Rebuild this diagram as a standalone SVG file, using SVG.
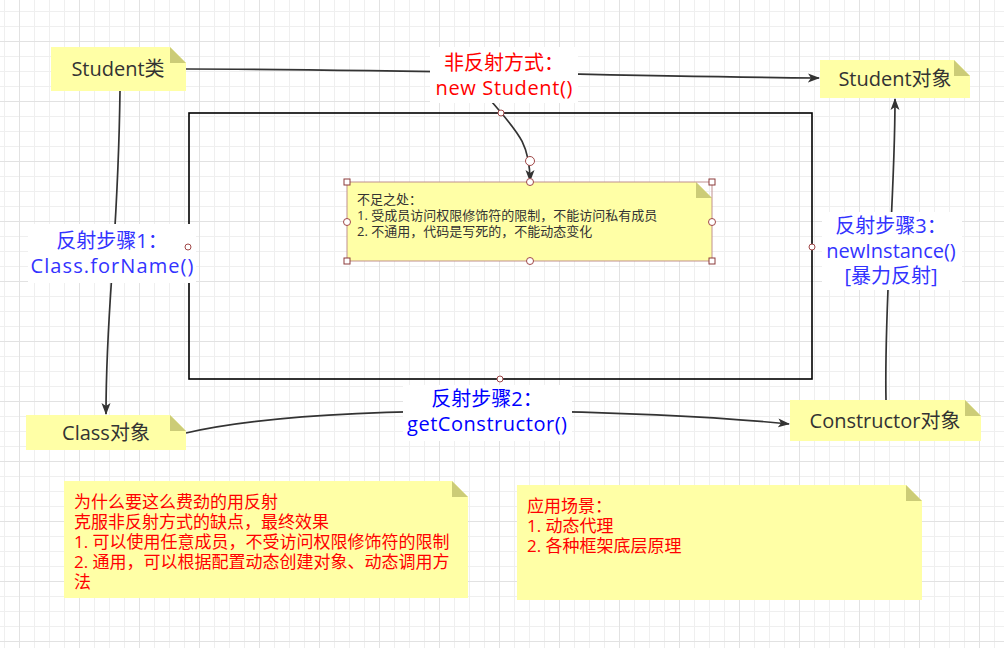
<svg xmlns="http://www.w3.org/2000/svg" width="1004" height="648" viewBox="0 0 1004 648">
<style>
text{font-family:"Open Sans","Noto Sans CJK SC",sans-serif}
.nt{font-size:20px;fill:#333;text-anchor:middle}
.lb{font-size:20px;text-anchor:middle}
.red{fill:#ff0000}
.blue{fill:#3333ff}
.blue2{fill:#0000ff}
.note{fill:#ffffa6}
.fold{fill:#cccc77}
.edge{fill:none;stroke:#333;stroke-width:1.7}
.bg{fill:#fff}
.hs{fill:#fff;stroke:#8b3a3a;stroke-width:1}
.hc{fill:#fff;stroke:#a04848;stroke-width:1}
.mt{font-size:17px;fill:#ff0000}
.st{font-size:13px;fill:#333}
</style>
<defs>
<pattern id="gmin" x="4" y="11" width="15" height="15" patternUnits="userSpaceOnUse">
<path d="M0.5,0V15M0,0.5H15" stroke="#efefef" stroke-width="1" fill="none"/>
</pattern>
<pattern id="gmaj" x="19" y="41" width="60" height="60" patternUnits="userSpaceOnUse">
<path d="M0.5,0V60M0,0.5H60" stroke="#e2e2e2" stroke-width="1" fill="none"/>
</pattern>
<marker id="arr" viewBox="0 0 12 10" refX="11" refY="5" markerWidth="12" markerHeight="10" markerUnits="userSpaceOnUse" orient="auto">
<path d="M0,0.5L12,5L0,9.5L3,5Z" fill="#333"/>
</marker>
</defs>
<rect width="1004" height="648" fill="#fff"/>
<rect width="1004" height="648" fill="url(#gmin)"/>
<rect width="1004" height="648" fill="url(#gmaj)"/>

<g id="frame">
<rect x="189" y="113" width="623" height="266" fill="none" stroke="#000" stroke-width="1.6"/>
</g>

<g id="connectors">
<path class="edge" d="M186,69 C400,69 600,76 819,78" marker-end="url(#arr)"/>
<path class="edge" d="M120,91 C118,250 106,300 106,414" marker-end="url(#arr)"/>
<path class="edge" d="M186,433 C330,400 650,410 789,424" marker-end="url(#arr)"/>
<path class="edge" d="M886,400 C884,300 895,200 895,99" marker-end="url(#arr)"/>
<path class="edge" d="M487,96 C515,130 530,140 530,181" marker-end="url(#arr)"/>
</g>

<g id="label-new">
<rect class="bg" x="430" y="47" width="148" height="56"/>
<text class="lb red" x="504" y="70">非反射方式：</text>
<text class="lb red" x="504" y="95" textLength="137" lengthAdjust="spacing">new Student()</text>
</g>
<g id="label-step1">
<rect class="bg" x="28" y="224" width="168" height="59"/>
<text class="lb blue" x="112" y="248">反射步骤1：</text>
<text class="lb blue" x="112" y="273" textLength="163" lengthAdjust="spacing">Class.forName()</text>
</g>
<g id="label-step2">
<rect class="bg" x="403" y="385" width="169" height="56"/>
<text class="lb blue2" x="487" y="406">反射步骤2：</text>
<text class="lb blue2" x="487" y="431" textLength="160" lengthAdjust="spacing">getConstructor()</text>
</g>
<g id="label-step3">
<rect class="bg" x="822" y="212" width="140" height="78"/>
<text class="lb blue" x="891" y="233">反射步骤3：</text>
<text class="lb blue" x="891" y="258">newInstance()</text>
<text class="lb blue" x="891" y="283">[暴力反射]</text>
</g>

<g id="student-class">
<path class="note" d="M51,47H170L186,63V91H51Z"/>
<path class="fold" d="M170,47V63H186Z"/>
<text class="nt" x="118" y="76">Student类</text>
</g>
<g id="student-object">
<path class="note" d="M820,60H954L970,76V98H820Z"/>
<path class="fold" d="M954,60V76H970Z"/>
<text class="nt" x="895" y="86">Student对象</text>
</g>
<g id="class-object">
<path class="note" d="M26,415H170L186,431V450H26Z"/>
<path class="fold" d="M170,415V431H186Z"/>
<text class="nt" x="106" y="440">Class对象</text>
</g>
<g id="constructor-object">
<path class="note" d="M790,400H965L981,416V441H790Z"/>
<path class="fold" d="M965,400V416H981Z"/>
<text class="nt" x="885" y="428">Constructor对象</text>
</g>

<g id="note-shortcoming">
<path class="note" d="M347,182H696L712,198V261H347Z"/>
<path class="fold" d="M696,182V198H712Z"/>
<rect x="347" y="182" width="365" height="79" fill="none" stroke="#c09090" stroke-width="1"/>
<text class="st" x="357" y="204">不足之处：</text>
<text class="st" x="357" y="220">1. 受成员访问权限修饰符的限制，不能访问私有成员</text>
<text class="st" x="357" y="236">2. 不通用，代码是写死的，不能动态变化</text>
<rect class="hs" x="344" y="179" width="6" height="6"/>
<rect class="hs" x="709" y="179" width="6" height="6"/>
<rect class="hs" x="344" y="258" width="6" height="6"/>
<rect class="hs" x="709" y="258" width="6" height="6"/>
<circle class="hc" cx="530" cy="182" r="3.5"/>
<circle class="hc" cx="530" cy="261" r="3.5"/>
<circle class="hc" cx="347" cy="222" r="3.5"/>
<circle class="hc" cx="712" cy="222" r="3.5"/>
<circle class="hc" cx="530" cy="161" r="4.5"/>
</g>

<g id="frame-points">
<circle class="hc" cx="188" cy="247" r="3"/>
<circle class="hc" cx="812" cy="247" r="3"/>
<circle class="hc" cx="500" cy="379" r="3"/>
<circle class="hc" cx="501" cy="113" r="3"/>
</g>

<g id="note-why">
<path class="note" d="M64,481H452L468,497V598H64Z"/>
<path class="fold" d="M452,481V497H468Z"/>
<text class="mt" x="74" y="508">为什么要这么费劲的用反射</text>
<text class="mt" x="74" y="528">克服非反射方式的缺点，最终效果</text>
<text class="mt" x="74" y="548">1. 可以使用任意成员，不受访问权限修饰符的限制</text>
<text class="mt" x="74" y="568">2. 通用，可以根据配置动态创建对象、动态调用方</text>
<text class="mt" x="74" y="588">法</text>
</g>
<g id="note-usage">
<path class="note" d="M517,485H906L922,501V600H517Z"/>
<path class="fold" d="M906,485V501H922Z"/>
<text class="mt" x="527" y="512">应用场景：</text>
<text class="mt" x="527" y="532">1. 动态代理</text>
<text class="mt" x="527" y="552">2. 各种框架底层原理</text>
</g>
</svg>
